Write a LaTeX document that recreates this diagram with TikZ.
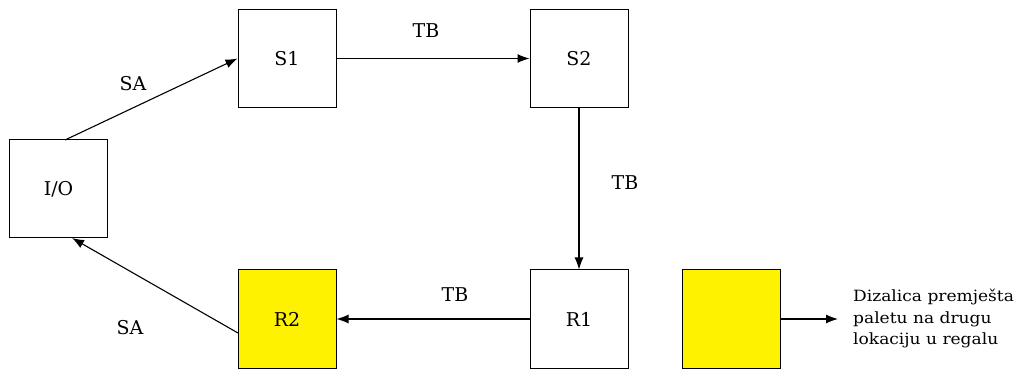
\documentclass[tikz,border=0pt]{standalone}
\usepackage{fontspec}
\setmainfont{DejaVu Serif}
\newfontfamily\widefont[FakeStretch=1.1]{DejaVu Serif}
\usetikzlibrary{arrows.meta}
\begin{document}
\begin{tikzpicture}[x=1pt,y=-1pt,
  box/.style={draw=black, line width=1pt, minimum width=98pt, minimum height=98pt, inner sep=0pt, font=\fontsize{19}{21}\selectfont},
  ybox/.style={box, fill=yellow},
  conn/.style={-{Latex[length=12pt,width=9pt]}, line width=1.1pt},
  lbl/.style={font=\fontsize{19}{21}\selectfont},
  note/.style={font=\widefont\fontsize{15.5}{21.5}\selectfont, align=left, anchor=west, inner sep=0pt}]
\useasboundingbox (0,0) rectangle (1020,387);
\node[box] (io) at (58.5,189) {I/O};
\node[box] (s1) at (287,58.5) {S1};
\node[box] (s2) at (579,58.5) {S2};
\node[box] (r1) at (579,319) {R1};
\node[ybox] (r2) at (287,319) {R2};
\node[ybox] (y) at (731,319) {};
\coordinate (iot) at (65,140);
\coordinate (iob) at (72,238);
\coordinate (r2l) at (238,333);
\coordinate (tend) at (838,319);
\draw[conn] (iot) -- (s1.west);
\draw[conn] (s1.east) -- (s2.west);
\draw[conn] (s2.south) -- (r1.north);
\draw[conn] (r1.west) -- (r2.east);
\draw[conn] (r2l) -- (iob);
\draw[conn] (y.east) -- (tend);
\node[lbl] (la) at (133,84) {SA};
\node[lbl] (lb) at (426,31) {TB};
\node[lbl] (lc) at (625,183) {TB};
\node[lbl] (ld) at (455,295) {TB};
\node[lbl] (le) at (130,328) {SA};
\node[note] (txt) at (853,319) {Dizalica premješta\\paletu na drugu\\lokaciju u regalu};
\end{tikzpicture}
\end{document}
